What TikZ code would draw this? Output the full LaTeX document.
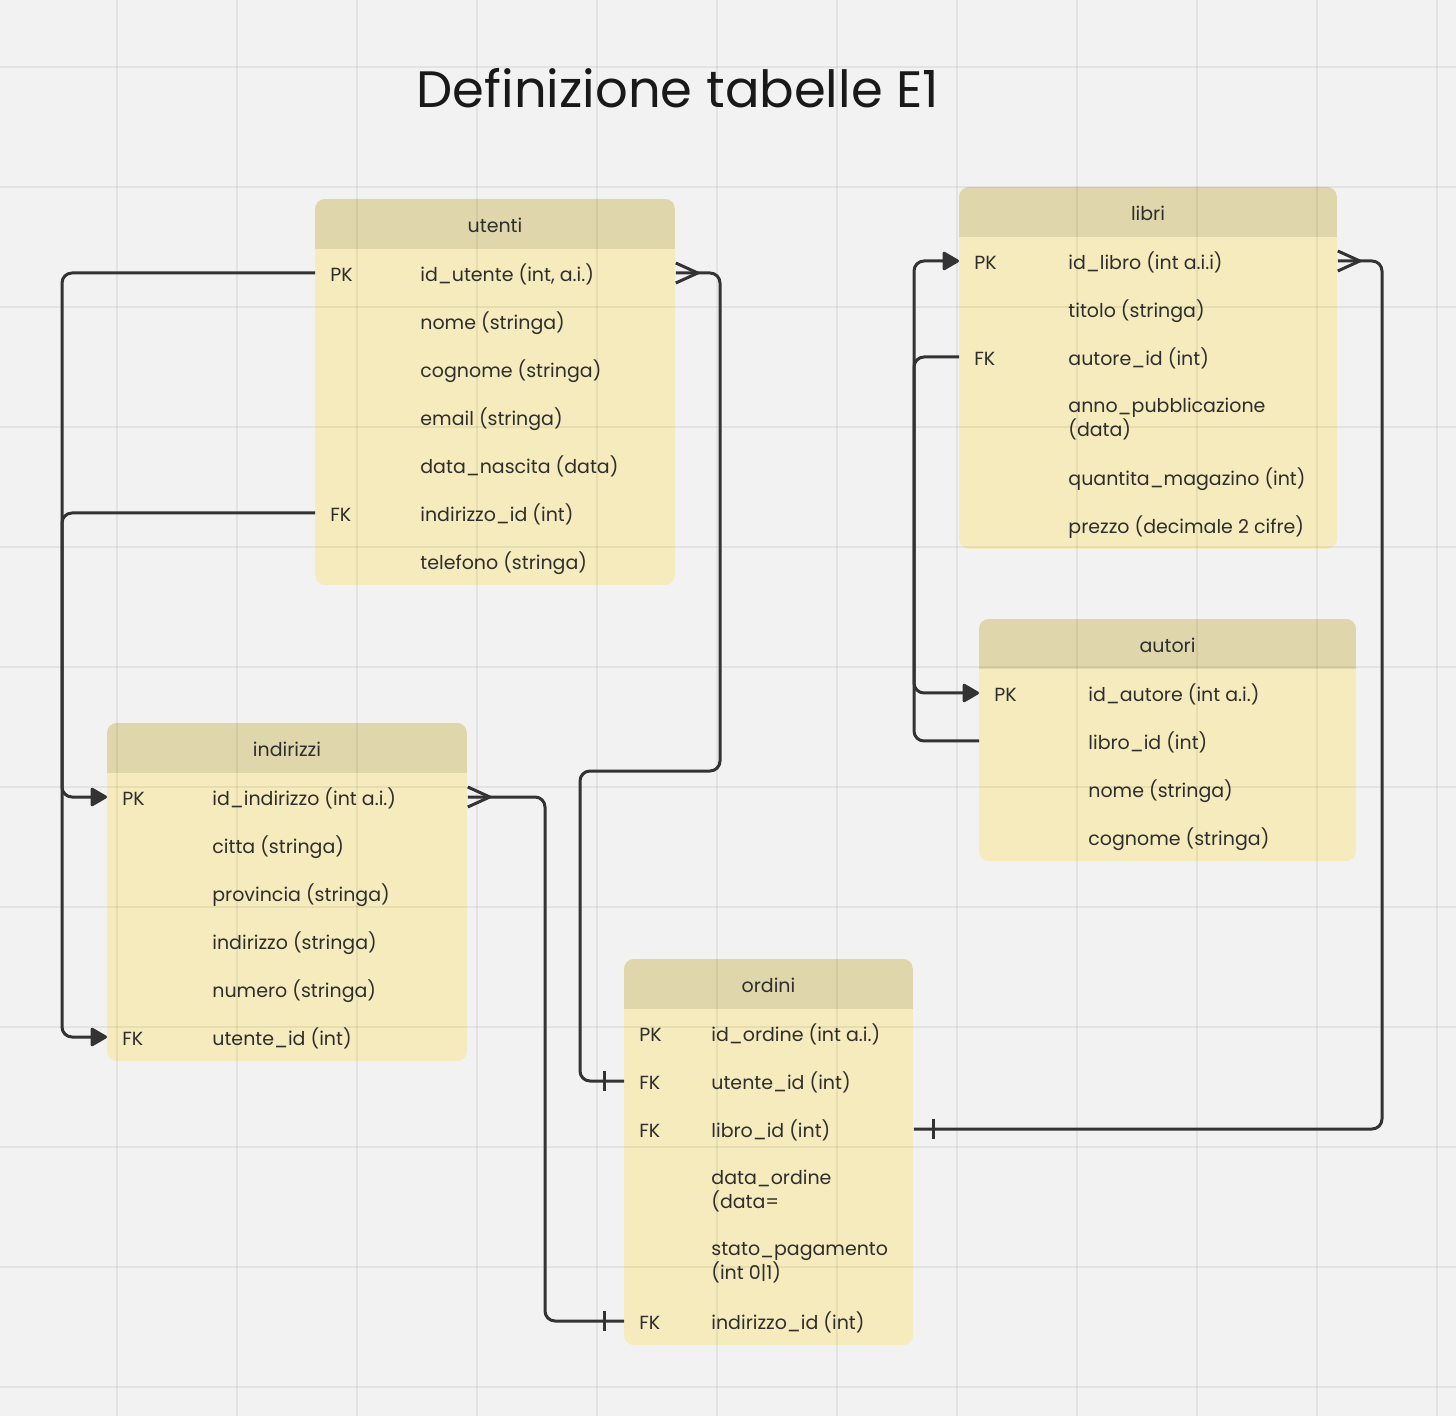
\documentclass[tikz,border=0pt]{standalone}
\usepackage{fontspec}
\setmainfont{Poppins}
\usetikzlibrary{arrows.meta}
\definecolor{bg}{HTML}{F2F2F2}
\definecolor{headc}{HTML}{DFD6AB}
\definecolor{bodyc}{HTML}{F5EBBC}
\definecolor{linec}{HTML}{333333}
\definecolor{txt}{HTML}{2E2E2E}
\newcommand{\mytable}[6]{%
  \fill[bodyc, rounded corners=5pt] (#1,#2) rectangle (#3,#4);
  \begin{scope}
    \clip[rounded corners=5pt] (#1,#2) rectangle (#3,#4);
    \fill[headc] (#1,#2) rectangle (#3,#2+50);
  \end{scope}
  \node[hdr] (#5) at ({(#1+#3)/2},#2+25) {#6};
}
\newcommand{\myrow}[7]{%
  \node[rowa, minimum width=#3, anchor=west] (#1) at (#2,#4) {};
  \node[keyt] (#1k) at (#2+15,#4) {#5};
  \node[fldt] (#1f) at (#2+#7,#4) {#6};
}
\begin{document}
\begin{tikzpicture}[x=0.5pt,y=-0.5pt,
  hdr/.style={text=txt, font=\fontsize{9.5pt}{12pt}\selectfont, inner sep=0pt, yshift=-0.5pt},
  rowa/.style={minimum height=24pt, inner sep=0pt, draw=none},
  keyt/.style={anchor=west, text=txt, font=\fontsize{9.5pt}{12pt}\selectfont, inner sep=0pt, yshift=-0.75pt},
  fldt/.style={anchor=west, text=txt, align=left, font=\fontsize{9.5pt}{12pt}\selectfont, inner sep=0pt, yshift=-0.9pt},
  conn/.style={draw=linec, line width=1.5pt, rounded corners=5pt},
  arr/.style={-{Triangle[length=9pt,width=10pt,round]}},
  tickmark/.style={draw=linec, line width=1.5pt},
]
\fill[bg] (0,0) rectangle (1456,1416);
\useasboundingbox (0,0) rectangle (1456,1416);

\node[text=black!90, font=\fontsize{25.6pt}{30pt}\selectfont, inner sep=0pt] (title) at (678,88) {Definizione tabelle E1};

% utenti
\mytable{315}{199}{675}{585}{ut}{utenti}
\myrow{utPK}{315}{180pt}{273}{PK}{id\_utente (int, a.i.)}{105}
\myrow{utN}{315}{180pt}{321}{}{nome (stringa)}{105}
\myrow{utC}{315}{180pt}{369}{}{cognome (stringa)}{105}
\myrow{utE}{315}{180pt}{417}{}{email (stringa)}{105}
\myrow{utD}{315}{180pt}{465}{}{data\_nascita (data)}{105}
\myrow{utFK}{315}{180pt}{513}{FK}{indirizzo\_id (int)}{105}
\myrow{utT}{315}{180pt}{561}{}{telefono (stringa)}{105}

% libri
\mytable{959}{187}{1337}{549}{li}{libri}
\myrow{liPK}{959}{189pt}{261}{PK}{id\_libro (int a.i.i)}{109}
\myrow{liT}{959}{189pt}{309}{}{titolo (stringa)}{109}
\myrow{liFK}{959}{189pt}{357}{FK}{autore\_id (int)}{109}
\myrow{liA}{959}{189pt}{417}{}{anno\_pubblicazione\\(data)}{109}
\myrow{liQ}{959}{189pt}{477}{}{quantita\_magazino (int)}{109}
\myrow{liP}{959}{189pt}{525}{}{prezzo (decimale 2 cifre)}{109}

% autori
\mytable{979}{619}{1356}{861}{au}{autori}
\myrow{auPK}{979}{188.5pt}{693}{PK}{id\_autore (int a.i.)}{109}
\myrow{auL}{979}{188.5pt}{741}{}{libro\_id (int)}{109}
\myrow{auN}{979}{188.5pt}{789}{}{nome (stringa)}{109}
\myrow{auC}{979}{188.5pt}{837}{}{cognome (stringa)}{109}

% indirizzi
\mytable{107}{723}{467}{1061}{in}{indirizzi}
\myrow{inPK}{107}{180pt}{797}{PK}{id\_indirizzo (int a.i.)}{105}
\myrow{inC}{107}{180pt}{845}{}{citta (stringa)}{105}
\myrow{inP}{107}{180pt}{893}{}{provincia (stringa)}{105}
\myrow{inI}{107}{180pt}{941}{}{indirizzo (stringa)}{105}
\myrow{inN}{107}{180pt}{989}{}{numero (stringa)}{105}
\myrow{inFK}{107}{180pt}{1037}{FK}{utente\_id (int)}{105}

% ordini
\mytable{624}{959}{913}{1345}{or}{ordini}
\myrow{orPK}{624}{144.5pt}{1033}{PK}{id\_ordine (int a.i.)}{87}
\myrow{orU}{624}{144.5pt}{1081}{FK}{utente\_id (int)}{87}
\myrow{orL}{624}{144.5pt}{1129}{FK}{libro\_id (int)}{87}
\myrow{orD}{624}{144.5pt}{1189}{}{data\_ordine\\(data=}{87}
\myrow{orS}{624}{144.5pt}{1261}{}{stato\_pagamento\\(int 0|1)}{87}
\myrow{orI}{624}{144.5pt}{1321}{FK}{indirizzo\_id (int)}{87}

% grid
\foreach \gx in {117,237,...,1437} \draw[black, opacity=0.06, line width=1pt] (\gx,0) -- (\gx,1416);
\foreach \gy in {67,187,...,1387} \draw[black, opacity=0.06, line width=1pt] (0,\gy) -- (1456,\gy);

% connectors
\draw[conn, arr] (utPK.west) -- ++(-253,0) |- (inFK.west);
\draw[conn, arr] (utFK.west) -- ++(-253,0) |- (inPK.west);
\draw[conn] (utPK.east) -- (720,273) -- (720,771) -- (580,771) -- (580,1081) -- (orU.west);
\draw[conn] (inPK.east) -- (545,797) -- (545,1321) -- (orI.west);
\draw[conn, arr] (liFK.west) -- (914,357) -- (914,693) -- (auPK.west);
\draw[conn, arr] (auL.west) -- (914,741) -- (914,261) -- (liPK.west);
\draw[conn] (liPK.east) -- (1382,261) -- (1382,1129) -- (orL.east);

% crow's feet
\draw[tickmark] ([yshift=5pt]utPK.east) -- ([xshift=11pt]utPK.east) -- ([yshift=-5pt]utPK.east);
\draw[tickmark] ([yshift=5pt]inPK.east) -- ([xshift=11pt]inPK.east) -- ([yshift=-5pt]inPK.east);
\draw[tickmark] ([yshift=5pt]liPK.east) -- ([xshift=11pt]liPK.east) -- ([yshift=-5pt]liPK.east);
% bars
\draw[tickmark] ([xshift=-10pt,yshift=5pt]orU.west) -- ([xshift=-10pt,yshift=-5pt]orU.west);
\draw[tickmark] ([xshift=-10pt,yshift=5pt]orI.west) -- ([xshift=-10pt,yshift=-5pt]orI.west);
\draw[tickmark] ([xshift=10pt,yshift=5pt]orL.east) -- ([xshift=10pt,yshift=-5pt]orL.east);
\end{tikzpicture}
\end{document}
